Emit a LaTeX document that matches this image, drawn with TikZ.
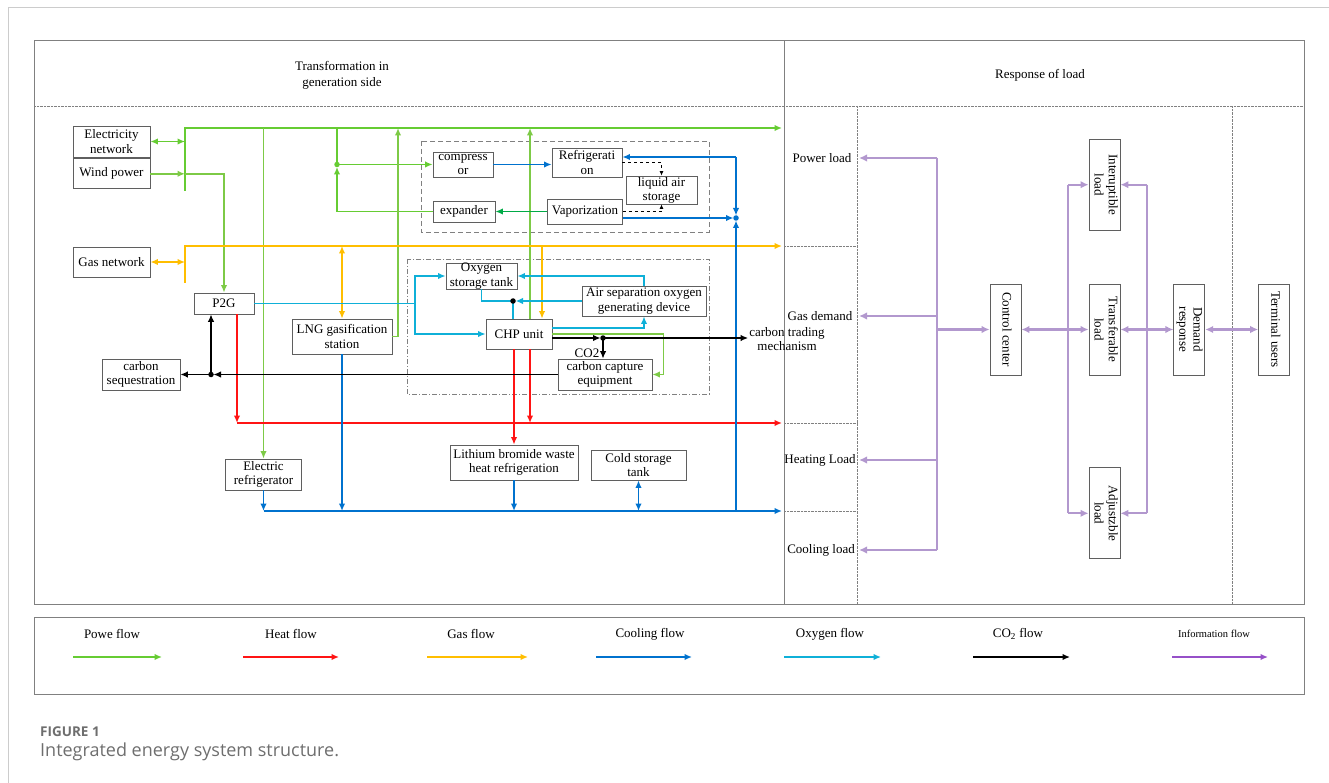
\documentclass[tikz,border=0pt]{standalone}
\usepackage{fontspec}
\setmainfont{Liberation Serif}
\newfontfamily\capfont{Open Sans}
\usetikzlibrary{positioning,arrows.meta}

\definecolor{pgreen}{RGB}{102,204,51}
\definecolor{lgreen}{RGB}{125,202,70}
\definecolor{dgreen}{RGB}{0,170,70}
\definecolor{hred}{RGB}{255,20,20}
\definecolor{gorange}{RGB}{255,190,0}
\definecolor{cblue}{RGB}{0,114,206}
\definecolor{ocyan}{RGB}{15,176,216}
\definecolor{ipurple}{RGB}{178,152,206}
\definecolor{ilegend}{RGB}{150,80,200}
\definecolor{framegray}{RGB}{128,128,128}
\definecolor{boxgray}{RGB}{95,95,95}
\definecolor{capgray}{RGB}{110,110,110}

\newcommand{\vlabel}[1]{\rotatebox{-90}{\begin{tabular}{@{}c@{}}#1\end{tabular}}}

\tikzset{
  box/.style={draw=boxgray, fill=white, line width=0.8pt, align=center, inner sep=0pt},
  vbox/.style={box, minimum width=31pt, minimum height=91pt},
  hdr/.style={align=center, font=\fontsize{13}{16}\selectfont},
  lbl/.style={align=center, inner sep=1pt},
  powerline/.style={pgreen, line width=1.7pt},
  lpowerline/.style={lgreen, line width=1.5pt},
  heatline/.style={hred, line width=1.6pt},
  gasline/.style={gorange, line width=1.7pt},
  coolline/.style={cblue, line width=1.6pt},
  oxyline/.style={ocyan, line width=1.5pt},
  coline/.style={black, line width=1.3pt},
  infoline/.style={ipurple, line width=2.2pt, >={Latex[length=8pt,width=7.5pt]}},
  dot/.style={circle, fill, inner sep=0pt, minimum size=5.5pt}
}

\begin{document}
\begin{tikzpicture}[x=1pt, y=-1pt, >={Latex[length=7.5pt,width=6.5pt]},
  every node/.style={font=\fontsize{13}{14.2}\selectfont}]
\useasboundingbox (0,0) rectangle (1329,783);

% frames
\draw[black!20, line width=1pt] (8,783) -- (8,8) -- (1329,8);
\draw[framegray, line width=1pt] (34,41) rectangle (1304,604);
\draw[framegray, densely dotted] (34,106) -- (1304,106);
\draw[framegray] (784,41) -- (784,604);
\draw[framegray, densely dotted] (857,106) -- (857,604) (1232,106) -- (1232,604);
\draw[framegray, densely dotted] (784,246) -- (857,246) (784,423) -- (857,423) (784,511) -- (857,511);
\draw[framegray, dash pattern=on 5pt off 3pt, line width=0.9pt] (421,141) rectangle (709,232);
\draw[framegray, dash pattern=on 5pt off 2pt on 1pt off 2pt, line width=0.9pt] (407,259) rectangle (709,394);
\draw[framegray, line width=1pt] (34,617) rectangle (1304,694);

\node[hdr] (gside) at (342,75) {Transformation in\\generation side};
\node[hdr] (lside) at (1040,75) {Response of load};

% generation side
\node[box, minimum width=77pt, minimum height=31pt] (elec) at (111.5,141.5) {Electricity\\network};
\node[box, minimum width=77pt, minimum height=30pt, below=1pt of elec] (wind) {Wind power};
\node[box, minimum width=77pt, minimum height=30pt] (gasnet) at (111.5,262) {Gas network};
\node[box, minimum width=60pt, minimum height=21pt] (p2g) at (224,303.5) {P2G};
\node[box, minimum width=78pt, minimum height=31pt] (seq) at (141,374.5) {carbon\\sequestration};
\node[box, minimum width=100pt, minimum height=35pt] (lng) at (342,336.5) {LNG gasification\\station};
\node[box, minimum width=76pt, minimum height=31pt] (eref) at (263.5,474.5) {Electric\\refrigerator};

\node[box, minimum width=60pt, minimum height=25pt] (comp) at (463,164.5) {compress\\or};
\node[box, minimum width=70pt, minimum height=29pt] (refr) at (587,162.5) {Refrigerati\\on};
\node[box, minimum width=71pt, minimum height=28pt] (las) at (661.5,190) {liquid air\\storage};
\node[box, minimum width=75pt, minimum height=25pt] (vap) at (585,211.5) {Vaporization};
\node[box, minimum width=62pt, minimum height=21pt] (expd) at (464,211.5) {expander};

\node[box, minimum width=71pt, minimum height=26pt] (otank) at (481.5,276) {Oxygen\\storage tank};
\node[box, minimum width=124pt, minimum height=30pt] (airsep) at (644,301) {Air separation oxygen\\generating device};
\node[box, minimum width=66pt, minimum height=30pt] (chp) at (519,334) {CHP unit};
\node[box, minimum width=94pt, minimum height=31pt] (ccap) at (605,374.5) {carbon capture\\equipment};
\node[lbl] (co2) at (587,353) {CO2};

\node[box, minimum width=128pt, minimum height=35pt] (libr) at (514,462.5) {Lithium bromide waste\\heat refrigeration};
\node[box, minimum width=95pt, minimum height=30pt] (cold) at (638.5,465) {Cold storage\\tank};

% load side
\node[lbl] (pload) at (822,158) {Power load};
\node[lbl] (gload) at (820,316) {Gas demand};
\node[lbl] (trade) at (787,339) {carbon trading\\mechanism};
\node[lbl] (hload) at (820,460) {Heating Load};
\node[lbl] (cload) at (821,550) {Cooling load};

\node[vbox] (ctrl) at (1005.5,329.5) {\vlabel{Control center}};
\node[vbox] (trans) at (1104.5,329.5) {\vlabel{Transferable\\load}};
\node[vbox, above=53pt of trans] (intr) {\vlabel{Interuptible\\load}};
\node[vbox, below=92pt of trans] (adj) {\vlabel{Adjustzble\\load}};
\node[vbox, right=53pt of trans] (dr) {\vlabel{Demand\\response}};
\node[vbox, right=53pt of dr] (term) {\vlabel{Terminal users}};

\coordinate (ptop) at (185,128);
\coordinate (pbot) at (185,191);
\coordinate (pend) at (782,128);
\coordinate (gtop) at (185,246);
\coordinate (gbot) at (185,283);
\coordinate (gend) at (782,246);
\coordinate (hend) at (782,423);
\coordinate (cend) at (782,511);
\coordinate (lngup) at (398,128);
\coordinate (cdot) at (337,164.5);
\coordinate (bdot) at (736,218);
\coordinate (rcorner) at (736,157);
\coordinate (ox) at (415,303.5);
\coordinate (odot) at (513,301);
\coordinate (kdot) at (603,338);
\coordinate (sdot) at (211,374.5);
\coordinate (trk) at (937,0);
\coordinate (lcol) at (859,0);
\coordinate (lv) at (1068,0);
\coordinate (rv) at (1147,0);

% power
\draw[powerline, ->] (pbot) -- (ptop) -- (pend);
\draw[powerline, line width=1.4pt, <->] (elec.east) -- (elec.east -| ptop);
\draw[lpowerline, ->] (wind.east) -- (wind.east -| ptop);
\draw[lpowerline, ->] (wind.east -| ptop) -| (p2g.north);
\draw[lpowerline, ->] (ptop -| eref.north) -- (eref.north);
\draw[powerline, line width=1.4pt] (ptop -| cdot) -- (cdot);
\draw[powerline, line width=1.4pt, ->] (cdot) -- (comp.west);
\draw[powerline, line width=1.4pt, ->, shorten >=2.5pt] (expd.west) -| (cdot);
\node[dot, pgreen] at (cdot) {};
\draw[lpowerline, ->] (lng.east) -| (lngup);
\draw[lpowerline, ->] ([xshift=11pt]chp.north) -- ([xshift=11pt]chp.north |- ptop);
\draw[lpowerline, ->] (chp.east) -- ++(111,0) |- (ccap.east);
\draw[dgreen, line width=1.6pt, ->] (vap.west) -- (expd.east);

% gas
\draw[gasline, ->] (gbot) -- (gtop) -- (gend);
\draw[gasline, line width=1.4pt, <->] (gasnet.east) -- (gasnet.east -| gtop);
\draw[gasline, line width=1.4pt, <->] (lng.north |- gtop) -- (lng.north);
\draw[gasline, line width=1.4pt, ->] ([xshift=23pt]chp.north |- gtop) -- ([xshift=23pt]chp.north);

% heat
\draw[heatline, ->] ([xshift=13pt]p2g.south) -- ([xshift=13pt]p2g.south |- hend);
\draw[heatline, ->] ([xshift=13pt]p2g.south |- hend) -- (hend);
\draw[heatline, ->] ([xshift=11pt]chp.south) -- ([xshift=11pt]chp.south |- hend);
\draw[heatline, ->] (libr.north |- chp.south) -- (libr.north);

% cooling
\draw[coolline, ->] (eref.south) -- (eref.south |- cend);
\draw[coolline, ->] (eref.south |- cend) -- (cend);
\draw[coolline, ->] (lng.south) -- (lng.south |- cend);
\draw[coolline, ->] (libr.south) -- (libr.south |- cend);
\draw[coolline, <->] (cold.south) -- (cold.south |- cend);
\draw[coolline, ->, shorten >=2.5pt] (bdot |- cend) -- (bdot);
\draw[coolline, ->, shorten >=2.5pt] ([yshift=-6.5pt]vap.east) -- (bdot);
\draw[coolline, ->] (rcorner) -- (rcorner -| refr.east);
\draw[coolline, ->, shorten >=2.5pt] (rcorner) -- (bdot);
\node[dot, cblue] at (bdot) {};
\draw[coolline, ->] (comp.east) -- (comp.east -| refr.west);
\draw[black, dashed, line width=0.8pt, -{Latex[length=4.5pt,width=4pt]}] (refr.east) -| (las.north);
\draw[black, dashed, line width=0.8pt, -{Latex[length=4.5pt,width=4pt]}] (vap.east) -| (las.south);

% oxygen
\draw[oxyline, ->] (p2g.east) -- (ox) |- (otank.west);
\draw[oxyline, ->] (ox) |- (chp.west);
\draw[oxyline, ->] (airsep.north) |- (otank.east);
\draw[oxyline, ->, shorten >=2.5pt] (airsep.west) -- (odot);
\draw[oxyline] (otank.south) |- (odot) -- (odot |- chp.north);
\draw[oxyline, ->] ([yshift=6pt]chp.east) -| (airsep.south);
\node[dot, black] at (odot) {};

% carbon
\draw[coline, ->, shorten >=2.5pt] ([yshift=-4pt]chp.east) -- (kdot);
\draw[coline, ->] (kdot) -- (kdot -| trade.west);
\draw[coline, ->] (kdot) -- (kdot |- ccap.north);
\node[dot, black] at (kdot) {};
\draw[coline, ->, shorten >=2.5pt] (ccap.west) -- (sdot);
\draw[coline, ->] (sdot) -- (seq.east);
\draw[coline, ->] (sdot) -- (sdot |- p2g.south);
\node[dot, black] at (sdot) {};

% information
\draw[infoline] (trk |- pload) -- (trk |- cload);
\draw[infoline, ->] (trk |- pload) -- (lcol |- pload);
\draw[infoline, ->] (trk |- gload) -- (lcol |- gload);
\draw[infoline, ->] (trk |- hload) -- (lcol |- hload);
\draw[infoline, ->] (trk |- cload) -- (lcol |- cload);
\draw[infoline, ->] (trk |- ctrl) -- (ctrl.west);
\draw[infoline, <->] (ctrl.east) -- (trans.west);
\draw[infoline] (lv |- intr) -- (lv |- adj);
\draw[infoline, ->] (lv |- intr) -- (intr.west);
\draw[infoline, ->] (lv |- adj) -- (adj.west);
\draw[infoline] (rv |- intr) -- (rv |- adj);
\draw[infoline, ->] (rv |- intr) -- (intr.east);
\draw[infoline, ->] (rv |- adj) -- (adj.east);
\draw[infoline, <->] (trans.east) -- (dr.west);
\draw[infoline, <->] (dr.east) -- (term.west);

% legend
\node[lbl] (leg1) at (112,634) {Powe flow};
\node[lbl] (leg2) at (291,634) {Heat flow};
\node[lbl] (leg3) at (471,634) {Gas flow};
\node[lbl] (leg4) at (650,634) {Cooling flow};
\node[lbl] (leg5) at (830,634) {Oxygen flow};
\node[lbl] (leg6) at (1018,634) {CO\textsubscript{2} flow};
\node[lbl, font=\fontsize{10.5}{12}\selectfont] (leg7) at (1214,634) {Information flow};
\coordinate (a1) at (73,657);   \coordinate (b1) at (162,657);
\coordinate (a2) at (243,657);  \coordinate (b2) at (339,657);
\coordinate (a3) at (427,657);  \coordinate (b3) at (528,657);
\coordinate (a4) at (596,657);  \coordinate (b4) at (692,657);
\coordinate (a5) at (784,657);  \coordinate (b5) at (881,657);
\coordinate (a6) at (973,657);  \coordinate (b6) at (1070,657);
\coordinate (a7) at (1172,657); \coordinate (b7) at (1268,657);
\draw[powerline, line width=1.4pt, ->] (a1) -- (b1);
\draw[heatline, line width=1.4pt, ->] (a2) -- (b2);
\draw[gasline, line width=1.4pt, ->] (a3) -- (b3);
\draw[coolline, line width=1.4pt, ->] (a4) -- (b4);
\draw[oxyline, line width=1.4pt, ->] (a5) -- (b5);
\draw[coline, line width=1.4pt, ->] (a6) -- (b6);
\draw[ilegend, line width=1.4pt, ->] (a7) -- (b7);

% caption
\node[anchor=base west, inner sep=0pt, text=capgray, font=\capfont\bfseries\fontsize{13.5}{15}\selectfont] (fig) at (40,736) {FIGURE 1};
\node[anchor=base west, inner sep=0pt, text=capgray, font=\capfont\fontsize{18}{21}\selectfont] (cap) at (40,756) {Integrated energy system structure.};
\end{tikzpicture}
\end{document}
